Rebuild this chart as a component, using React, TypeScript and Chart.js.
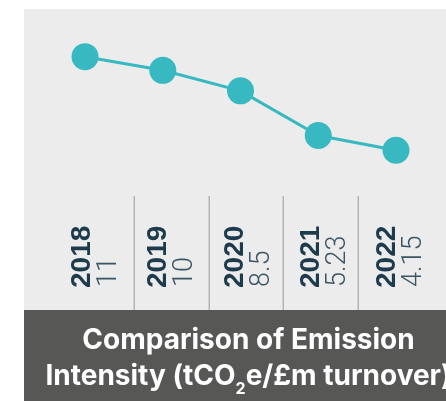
import React, { useEffect, useRef } from "react";
import { Chart, registerables } from "chart.js";

Chart.register(...registerables);

const years = ["2018", "2019", "2020", "2021", "2022"];
const intensity = [11, 10, 8.5, 5.23, 4.15];
const valueLabels = ["11", "10", "8.5", "5.23", "4.15"];
const titleLine1 = "Comparison of Emission";
const titleLine2Parts = ["Intensity (tCO", "2", "e/£m turnover)"];

const TEAL = "#38b9c1";
const PANEL = "#ececec";
const BANNER = "#575756";
const YEAR_COLOR = "#1e3b4d";
const VALUE_COLOR = "#3b5565";

const decorPlugin = {
  id: "decor",
  beforeDraw(chart: any) {
    const ctx = chart.ctx as CanvasRenderingContext2D;
    const W = chart.width;
    const H = chart.height;
    const xs = chart.scales.x;
    ctx.save();
    // panel
    ctx.fillStyle = PANEL;
    ctx.fillRect(24, 9, W - 24, 301);
    // banner
    ctx.fillStyle = BANNER;
    ctx.fillRect(24, 310, W - 24, H - 310);

    // separators
    ctx.strokeStyle = "#b3b3b3";
    ctx.lineWidth = 1.5;
    for (let i = 0; i < years.length - 1; i++) {
      const x = Math.round(xs.getPixelForValue(0.631 + 0.961 * i)) + 0.25;
      ctx.beginPath();
      ctx.moveTo(x, 196);
      ctx.lineTo(x, 310);
      ctx.stroke();
    }

    // rotated labels
    for (let i = 0; i < years.length; i++) {
      const col = xs.getPixelForValue(0.064 + 0.981 * i);
      ctx.save();
      ctx.translate(col, 288);
      ctx.rotate(-Math.PI / 2);
      ctx.textAlign = "left";
      ctx.textBaseline = "alphabetic";
      ctx.font = "bold 28px 'Liberation Sans', Arial, sans-serif";
      ctx.fillStyle = YEAR_COLOR;
      ctx.fillText(years[i], 0, 0);
      ctx.restore();

      ctx.save();
      ctx.translate(col + 26, 287);
      ctx.rotate(-Math.PI / 2);
      ctx.textAlign = "left";
      ctx.textBaseline = "alphabetic";
      ctx.font = "300 27px Roboto, 'Liberation Sans', sans-serif";
      ctx.fillStyle = VALUE_COLOR;
      ctx.fillText(valueLabels[i], 0, 0);
      ctx.restore();
    }

    // title
    const cx = 248.5;
    ctx.fillStyle = "#ffffff";
    ctx.textBaseline = "alphabetic";
    const big = "bold 28px Inter, 'Liberation Sans', sans-serif";
    const small = "bold 16px Inter, 'Liberation Sans', sans-serif";
    ctx.font = big;
    ctx.textAlign = "center";
    ctx.fillText(titleLine1, cx, 349);

    ctx.textAlign = "left";
    ctx.font = big;
    const w0 = ctx.measureText(titleLine2Parts[0]).width;
    const w2 = ctx.measureText(titleLine2Parts[2]).width;
    ctx.font = small;
    const w1 = ctx.measureText(titleLine2Parts[1]).width;
    let x = cx - (w0 + w1 + w2) / 2;
    ctx.font = big;
    ctx.fillText(titleLine2Parts[0], x, 385);
    x += w0;
    ctx.font = small;
    ctx.fillText(titleLine2Parts[1], x, 394);
    x += w1;
    ctx.font = big;
    ctx.fillText(titleLine2Parts[2], x, 385);
    ctx.restore();
  },
};

export default function App() {
  const ref = useRef<HTMLCanvasElement | null>(null);
  useEffect(() => {
    if (!ref.current) return;
    const chart = new Chart(ref.current, {
      type: "line",
      data: {
        labels: years,
        datasets: [
          {
            data: intensity,
            borderColor: TEAL,
            backgroundColor: TEAL,
            borderWidth: 3,
            pointRadius: 13.5,
            pointHoverRadius: 13.5,
            pointBorderWidth: 0,
            pointBackgroundColor: TEAL,
            tension: 0,
            clip: false as any,
          },
        ],
      },
      options: {
        responsive: false,
        animation: false,
        devicePixelRatio: 1,
        layout: { padding: { left: 85, right: 50, top: 43, bottom: 194 } },
        plugins: { legend: { display: false }, tooltip: { enabled: false } },
        scales: {
          x: { display: false },
          y: { display: false, min: 0, max: 12 },
        },
      },
      plugins: [decorPlugin],
    });
    return () => chart.destroy();
  }, []);
  return (
    <div style={{ position: "absolute", left: 0, top: 0, width: 446, height: 401, background: "#fff" }}>
      <canvas ref={ref} width={446} height={401} style={{ display: "block" }} />
    </div>
  );
}
